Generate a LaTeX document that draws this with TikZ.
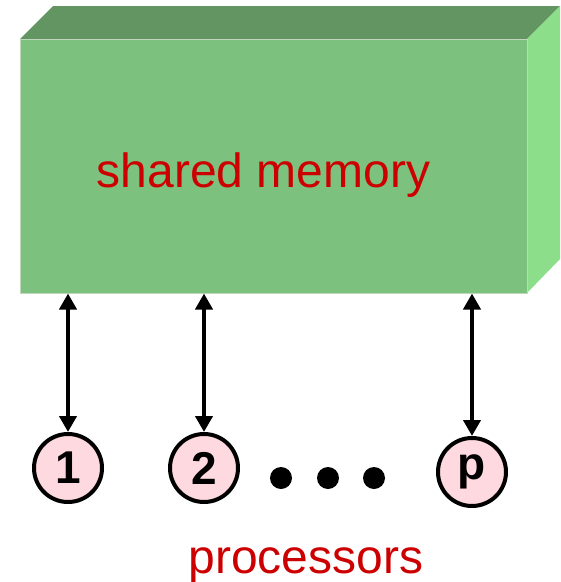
\documentclass[tikz,border=0pt]{standalone}
\usepackage{fontspec}
\setmainfont{Liberation Sans}
\usetikzlibrary{arrows.meta}
\definecolor{memfront}{RGB}{125,193,127}
\definecolor{memtop}{RGB}{98,149,97}
\definecolor{memside}{RGB}{140,222,138}
\definecolor{memedge}{RGB}{190,215,190}
\definecolor{procfill}{RGB}{255,217,224}
\definecolor{labelred}{RGB}{204,0,0}
\begin{document}
\begin{tikzpicture}[x=1pt,y=-1pt,
                        label/.style={font=\fontsize{48}{52}\selectfont,text=labelred,anchor=base,inner sep=0pt},
                        proc/.style={circle,draw,line width=4pt,fill=procfill,minimum size=68pt,inner sep=0pt,font=\fontsize{46}{50}\selectfont\bfseries},
                        link/.style={line width=4pt,{Triangle[length=16pt,width=17pt]}-{Triangle[length=16pt,width=17pt]}},
                        ]
                        \useasboundingbox (0,0) rectangle (561,582);
                        %Speicher als Quader
                        \fill [memtop] (20,39) -- (53,6) -- (560,6) -- (527,39) -- cycle;
                        \fill [memside] (527,39) -- (560,6) -- (560,259) -- (527,293) -- cycle;
                        \node [draw=memedge,line width=1pt,fill=memfront,minimum width=507pt,minimum height=254pt,inner sep=0pt] (mem) at (273.5,166) {};
                        \node [label] (memtext) at (263.5,187) {shared memory};
                        %Prozessoren
                        \node [proc] (p1) at (68,468) {1};
                        \node [proc] (p2) at (204,468) {2};
                        \node [proc] (pp) at (472,472) {p};
                        \foreach \x in {281, 328, 374}
                        \fill (\x,478) circle (11pt);
                        %Verbindungen
                        \draw [link] (p1 |- mem.south) -- (p1.north);
                        \draw [link] (p2 |- mem.south) -- (p2.north);
                        \draw [link] (pp |- mem.south) -- (pp.north);
                        %Beschriftung
                        \node [label] (proctext) at (306,573) {processors};
                \end{tikzpicture}
\end{document}
